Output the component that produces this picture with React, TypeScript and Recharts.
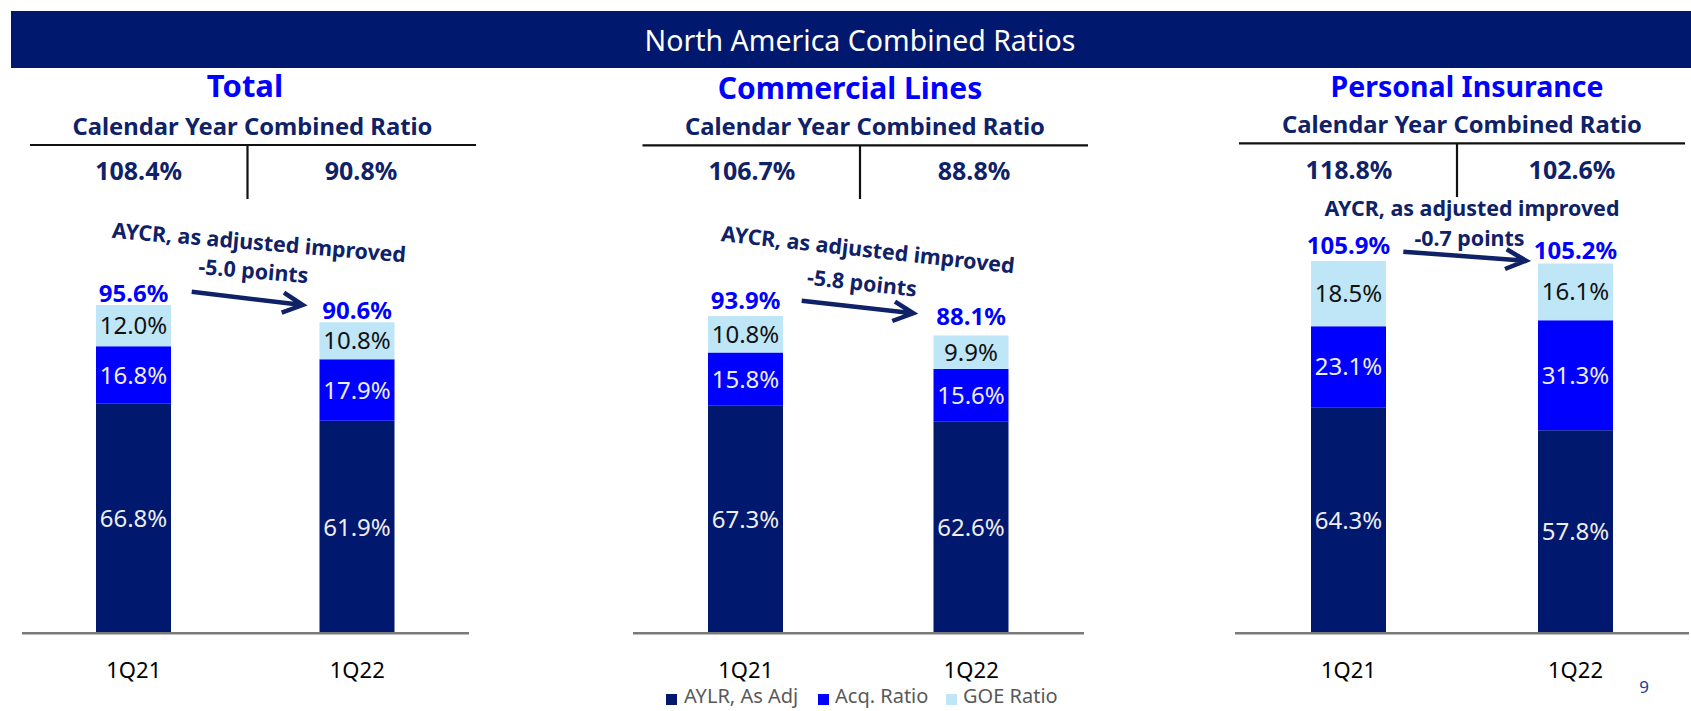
import React from 'react';
import { BarChart, Bar, XAxis, YAxis, LabelList } from 'recharts';

// ---------- data ----------
const categories = ['1Q21', '1Q22'];
const seriesNames = ['AYLR, As Adj', 'Acq. Ratio', 'GOE Ratio'];

const totalAylr = [66.8, 61.9];
const totalAcq = [16.8, 17.9];
const totalGoe = [12.0, 10.8];
const totalAycr = [95.6, 90.6];
const totalCalendarCr = [108.4, 90.8];
const totalImprovement = -5.0;

const commercialAylr = [67.3, 62.6];
const commercialAcq = [15.8, 15.6];
const commercialGoe = [10.8, 9.9];
const commercialAycr = [93.9, 88.1];
const commercialCalendarCr = [106.7, 88.8];
const commercialImprovement = -5.8;

const personalAylr = [64.3, 57.8];
const personalAcq = [23.1, 31.3];
const personalGoe = [18.5, 16.1];
const personalAycr = [105.9, 105.2];
const personalCalendarCr = [118.8, 102.6];
const personalImprovement = -0.7;

// ---------- styles ----------
const NAVY = '#00186E';
const TEXT_NAVY = '#0F2167';
const BLUE = '#0000FF';
const LIGHT = '#BFE6F7';
const FONT = "'Noto Sans', sans-serif";
const colors = [NAVY, BLUE, LIGHT];
const labelColors = ['#EDEDED', '#EDEDED', '#111111'];

const DOMAIN_MAX = 125;
const BASELINE = 633;
const AXIS_H = 60;

type Layout = {
  title: string; titleSize: number;
  plotLeft: number; plotWidth: number; scale: number;
  titleX: number; titleY: number;
  calX: number; calY: number;
  lineX1: number; lineX2: number; lineY: number; vX: number; vY2: number;
  crX: number[]; crY: number;
  ann: { x: number; y: number; rot: number }[];
  arrow: number[][];
  gaps: number[];
};

const panels = [
  {
    aylr: totalAylr, acq: totalAcq, goe: totalGoe, aycr: totalAycr, cr: totalCalendarCr, imp: totalImprovement,
    layout: {
      title: 'Total', titleSize: 31, plotLeft: 22, plotWidth: 447, scale: 3.434,
      titleX: 245, titleY: 86, calX: 252.5, calY: 127,
      lineX1: 30, lineX2: 476, lineY: 145, vX: 247.5, vY2: 199,
      crX: [138.6, 361], crY: 171.5,
      ann: [{ x: 259, y: 242.5, rot: 4.8 }, { x: 253.5, y: 271, rot: 4.8 }],
      arrow: [[191.7, 291.7], [302.7, 305], [284, 292.7], [281.7, 312.7]],
      gaps: [3, 3],
    } as Layout,
  },
  {
    aylr: commercialAylr, acq: commercialAcq, goe: commercialGoe, aycr: commercialAycr, cr: commercialCalendarCr, imp: commercialImprovement,
    layout: {
      title: 'Commercial Lines', titleSize: 30, plotLeft: 633, plotWidth: 451, scale: 3.377,
      titleX: 850, titleY: 88.5, calX: 865, calY: 127,
      lineX1: 642.5, lineX2: 1088, lineY: 145.3, vX: 860, vY2: 199,
      crX: [752, 974], crY: 171.5,
      ann: [{ x: 868, y: 249.7, rot: 6.3 }, { x: 862, y: 283, rot: 6.3 }],
      arrow: [[801.7, 300.7], [913.3, 313.3], [895, 301.7], [892.3, 321]],
      gaps: [7, 11],
    } as Layout,
  },
  {
    aylr: personalAylr, acq: personalAcq, goe: personalGoe, aycr: personalAycr, cr: personalCalendarCr, imp: personalImprovement,
    layout: {
      title: 'Personal Insurance', titleSize: 28.5, plotLeft: 1235, plotWidth: 454, scale: 3.514,
      titleX: 1467, titleY: 87, calX: 1462, calY: 125,
      lineX1: 1239, lineX2: 1685, lineY: 143.3, vX: 1457, vY2: 197,
      crX: [1349, 1572], crY: 170,
      ann: [{ x: 1472, y: 208, rot: 0 }, { x: 1469.5, y: 238, rot: 0 }],
      arrow: [[1403.3, 251.7], [1526, 260.7], [1506.7, 249.3], [1505, 269]],
      gaps: [7, 5],
    } as Layout,
  },
];

const fmt = (v: number) => `${v.toFixed(1)}%`;
const CAP = 0.357; // half cap height in em

function segLabel(color: string) {
  return (props: any) => {
    const { x, y, width, height, value } = props;
    const fs = 24;
    return (
      <text x={Number(x) + Number(width) / 2} y={Number(y) + Number(height) / 2 + CAP * fs}
        textAnchor="middle" fontSize={fs} fill={color} fontFamily={FONT}>
        {fmt(Number(value))}
      </text>
    );
  };
}

function totalLabel(gaps: number[]) {
  return (props: any) => {
    const { x, y, width, value, index } = props;
    return (
      <text x={Number(x) + Number(width) / 2} y={Number(y) - gaps[index]}
        textAnchor="middle" fontSize={24} fontWeight={700} fill={BLUE} fontFamily={FONT}>
        {fmt(Number(value))}
      </text>
    );
  };
}

function Panel({ p }: { p: typeof panels[number] }) {
  const L = p.layout;
  const data = categories.map((c, i) => ({
    cat: c, aylr: p.aylr[i], acq: p.acq[i], goe: p.goe[i], total: p.aycr[i],
  }));
  const plotH = DOMAIN_MAX * L.scale;
  const top = BASELINE - plotH;
  const keys = ['aylr', 'acq', 'goe'];
  return (
    <div style={{ position: 'absolute', left: L.plotLeft, top }}>
      <BarChart width={L.plotWidth} height={plotH + AXIS_H} data={data}
        margin={{ top: 0, right: 0, bottom: 0, left: 0 }}>
        <XAxis dataKey="cat" height={AXIS_H} tickLine={false} tickSize={0} tickMargin={29}
          axisLine={{ stroke: '#7A7A7A', strokeWidth: 2.5 }}
          tick={{ fontSize: 22, fill: '#000', fontFamily: FONT }} />
        <YAxis hide domain={[0, DOMAIN_MAX]} />
        {keys.map((k, i) => (
          <Bar key={k} dataKey={k} name={seriesNames[i]} stackId="s" fill={colors[i]} barSize={75}
            isAnimationActive={false}>
            <LabelList dataKey={k} content={segLabel(labelColors[i])} />
            {i === 2 && <LabelList dataKey="total" content={totalLabel(L.gaps)} />}
          </Bar>
        ))}
      </BarChart>
    </div>
  );
}

function Overlay() {
  const t = (x: number, y: number, s: string, fs: number, fill: string, weight = 700, rot = 0) => (
    <text x={x} y={y + CAP * fs} textAnchor="middle" fontSize={fs} fontWeight={weight} fill={fill}
      fontFamily={FONT} transform={rot ? `rotate(${rot} ${x} ${y})` : undefined}>{s}</text>
  );
  return (
    <svg width={1691} height={711} style={{ position: 'absolute', left: 0, top: 0, pointerEvents: 'none' }}>
      <rect x={11} y={11} width={1680} height={57} fill={NAVY} />
      {t(860, 41, 'North America Combined Ratios', 28.5, '#FFFFFF', 400)}
      {panels.map((p, pi) => {
        const L = p.layout;
        const a = L.arrow;
        return (
          <g key={pi}>
            {t(L.titleX, L.titleY, L.title, L.titleSize, BLUE)}
            {t(L.calX, L.calY, 'Calendar Year Combined Ratio', 23.8, TEXT_NAVY)}
            <line x1={L.lineX1} x2={L.lineX2} y1={L.lineY} y2={L.lineY} stroke="#111" strokeWidth={2.2} />
            <line x1={L.vX} x2={L.vX} y1={L.lineY} y2={L.vY2} stroke="#111" strokeWidth={2.2} />
            {t(L.crX[0], L.crY, fmt(p.cr[0]), 25, TEXT_NAVY)}
            {t(L.crX[1], L.crY, fmt(p.cr[1]), 25, TEXT_NAVY)}
            {t(L.ann[0].x, L.ann[0].y, 'AYCR, as adjusted improved', 21.4, TEXT_NAVY, 700, L.ann[0].rot)}
            {t(L.ann[1].x, L.ann[1].y, `${p.imp.toFixed(1)} points`, 21.4, TEXT_NAVY, 700, L.ann[1].rot)}
            <path d={`M${a[0][0]},${a[0][1]} L${a[1][0]},${a[1][1]} M${a[2][0]},${a[2][1]} L${a[1][0]},${a[1][1]} L${a[3][0]},${a[3][1]}`}
              stroke={TEXT_NAVY} strokeWidth={4.5} fill="none" strokeLinejoin="miter" />
          </g>
        );
      })}
      {t(1644, 687, '9', 17, '#1F3A93', 400)}
    </svg>
  );
}

function LegendRow() {
  const xs = [[666, 684], [818, 835], [946, 963]];
  return (
    <div style={{ position: 'absolute', left: 0, top: 0 }}>
      {seriesNames.map((n, i) => (
        <React.Fragment key={n}>
          <div style={{ position: 'absolute', left: xs[i][0], top: 694, width: 11, height: 11, background: colors[i] }} />
          <div style={{ position: 'absolute', left: xs[i][1], top: 684, fontSize: 20, lineHeight: '24px',
            color: '#595959', fontFamily: FONT, whiteSpace: 'nowrap' }}>{n}</div>
        </React.Fragment>
      ))}
    </div>
  );
}

export default function App() {
  return (
    <div style={{ position: 'absolute', left: 0, top: 0, width: 1691, height: 711, overflow: 'hidden',
      background: '#fff', fontFamily: FONT }}>
      {panels.map((p, i) => <Panel key={i} p={p} />)}
      <Overlay />
      <LegendRow />
    </div>
  );
}
